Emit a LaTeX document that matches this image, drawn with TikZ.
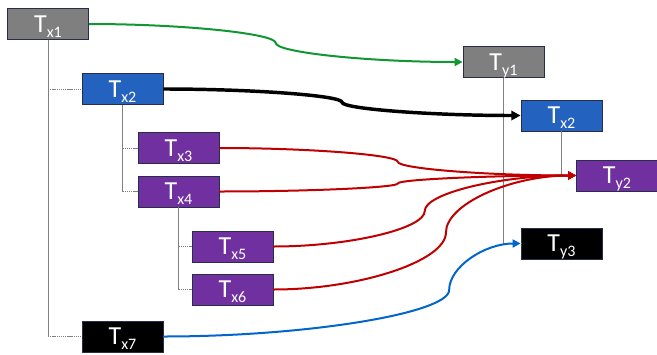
\documentclass[tikz,border=0pt]{standalone}
\usepackage{fontspec}
\setmainfont{Carlito}
\usetikzlibrary{arrows.meta,calc}
\definecolor{boxgray}{RGB}{127,127,127}
\definecolor{boxblue}{RGB}{36,98,192}
\definecolor{boxpurple}{RGB}{112,48,160}
\definecolor{boxline}{RGB}{40,46,74}
\definecolor{treegray}{RGB}{128,128,128}
\definecolor{cgreen}{RGB}{16,150,50}
\definecolor{cred}{RGB}{192,0,0}
\definecolor{cblue}{RGB}{0,102,204}
\newcommand\tlab[2]{{\fontsize{19.5}{20}\selectfont #1\raisebox{-3.8pt}{\fontsize{12}{12}\selectfont #2}}}
\tikzset{
  tbox/.style={draw=boxline, line width=0.6pt, text=white, minimum width=60.75pt, minimum height=23.25pt,
    inner sep=0pt, text height=12.75pt, text depth=0.75pt, fill=#1},
  treev/.style={draw=treegray, line width=0.7pt},
  treeh/.style={draw=treegray, line width=0.7pt, dash pattern=on 1pt off 0.6pt},
  pcurve/.style={to path={let \p1=(\tikztostart), \p2=(\tikztotarget), \n1={\x1+#1*(\x2-\x1)} in
     .. controls ({(\x1+\n1)/2},\y1) and (\n1,{\y1+(\y2-\y1)/4}) .. (\n1,{(\y1+\y2)/2})
     .. controls (\n1,{\y1+3*(\y2-\y1)/4}) and ({(\n1+\x2)/2},\y2) .. (\x2,\y2)}},
  conn/.style={line width=1.5pt, -{Triangle[length=6pt,width=6pt]}},
}
\begin{document}
\begin{tikzpicture}[x=0.75pt,y=-0.75pt]
\useasboundingbox (0,0) rectangle (657,354);
\node[tbox=boxgray]   (x1) at (48,24)      {\tlab{T}{x1}};
\node[tbox=boxblue]   (x2) at (122.5,89)   {\tlab{T}{x2}};
\node[tbox=boxpurple] (x3) at (178.5,148)  {\tlab{T}{x3}};
\node[tbox=boxpurple] (x4) at (178.5,191.5){\tlab{T}{x4}};
\node[tbox=boxpurple] (x5) at (232.5,246.5){\tlab{T}{x5}};
\node[tbox=boxpurple] (x6) at (232.5,289.5){\tlab{T}{x6}};
\node[tbox=black]     (x7) at (122.5,336.5){\tlab{T}{x7}};
\node[tbox=boxgray]   (y1) at (503.5,62)   {\tlab{T}{y1}};
\node[tbox=boxblue]   (x2r) at (561.5,115.5){\tlab{T}{x2}};
\node[tbox=boxpurple] (y2) at (617,175.5)  {\tlab{T}{y2}};
\node[tbox=black]     (y3) at (561.5,243.5){\tlab{T}{y3}};
% tree lines
\draw[treev] (x1.south) -- (x1.south |- x7.west);
\draw[treeh] (x1.south |- x2.west) -- (x2.west);
\draw[treeh] (x1.south |- x7.west) -- (x7.west);
\draw[treev] (x2.south) -- (x2.south |- x4.west);
\draw[treeh] (x2.south |- x3.west) -- (x3.west);
\draw[treeh] (x2.south |- x4.west) -- (x4.west);
\draw[treev] (x4.south) -- (x4.south |- x6.west);
\draw[treeh] (x4.south |- x5.west) -- (x5.west);
\draw[treeh] (x4.south |- x6.west) -- (x6.west);
\draw[treev] (y1.south) -- (y1.south |- y3.west);
\draw[treeh] (y1.south |- y3.west) -- (y3.west);
\draw[treev] (x2r.south) -- (x2r.south |- y2.west);
\draw[treeh] (x2r.south |- y2.west) -- (y2.west);
% connectors
\draw[conn, cgreen] (x1.east) to[pcurve=0.5] (y1.west);
\draw[conn, black, line width=2.6pt, -{Triangle[length=7pt,width=7pt]}] (x2.east) to[pcurve=0.5] (x2r.west);
\draw[conn, cred] (x3.east) to[pcurve=0.5] (y2.west);
\draw[conn, cred] (x4.east) to[pcurve=0.5] (y2.west);
\draw[conn, cred] (x5.east) to[pcurve=0.5] (y2.west);
\draw[conn, cred] (x6.east) to[pcurve=0.57] (y2.west);
\draw[conn, cblue] (x7.east) to[pcurve=0.8] (y3.west);
\end{tikzpicture}
\end{document}
